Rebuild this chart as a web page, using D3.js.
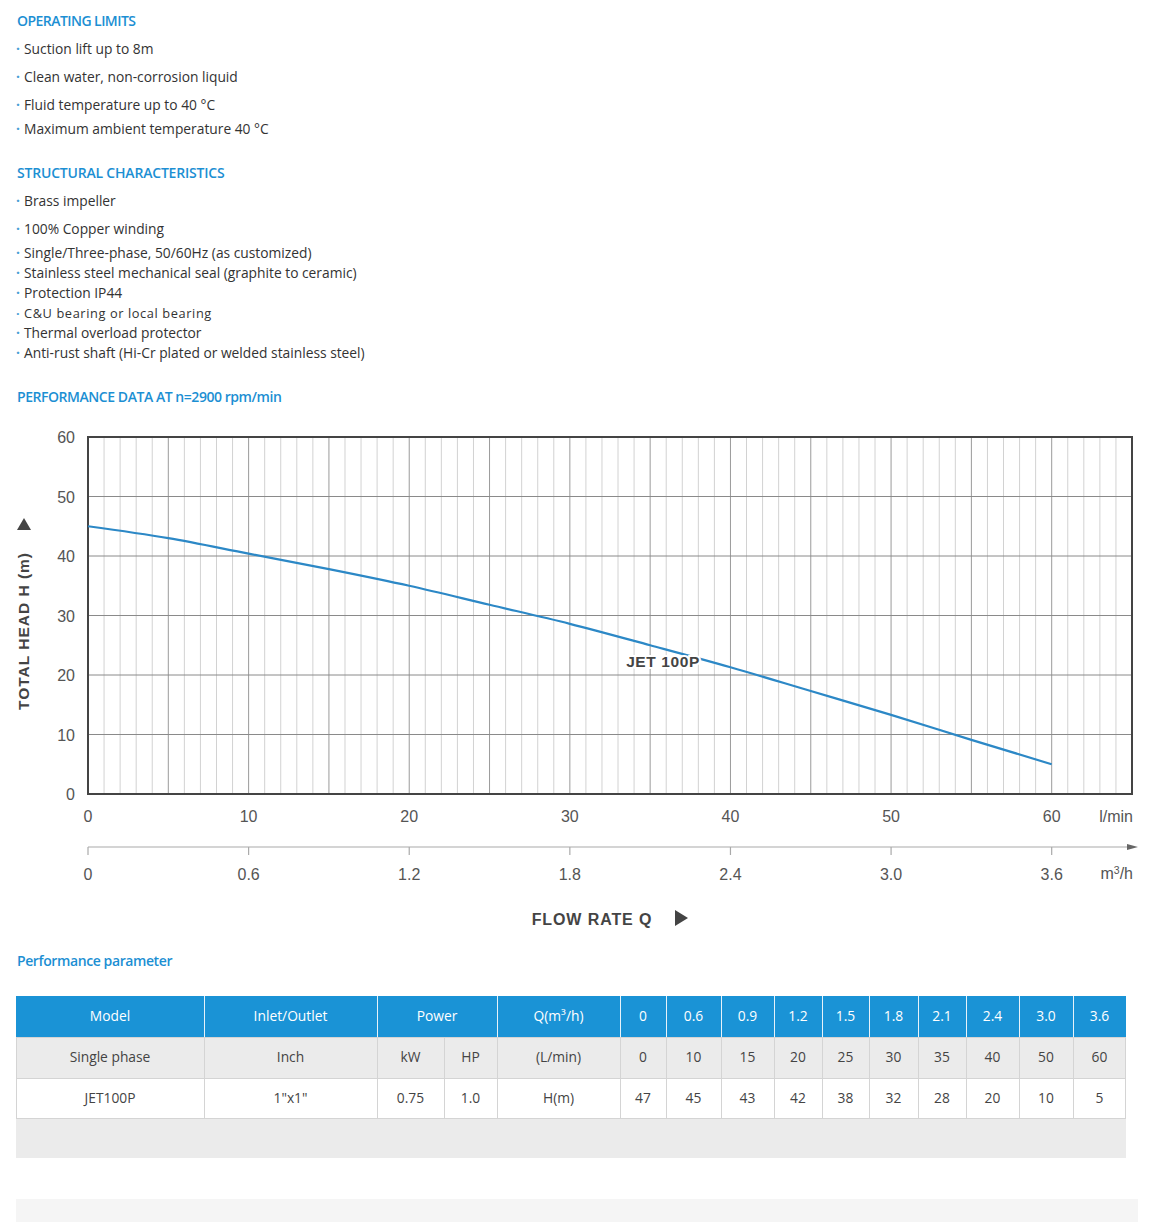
<!DOCTYPE html>
<html><head><meta charset="utf-8">
<script src="https://cdn.jsdelivr.net/npm/d3@7/dist/d3.min.js"></script>
<style>
body{margin:0;background:#fff;}
svg{display:block;}
</style></head>
<body>
<svg id="c" width="1161" height="1222"></svg>
<script>
// ---------- DATA ----------
const opLimits = ["Suction lift up to 8m","Clean water, non-corrosion liquid","Fluid temperature up to 40 °C","Maximum ambient temperature 40 °C"];
const structural = ["Brass impeller","100% Copper winding","Single/Three-phase, 50/60Hz (as customized)","Stainless steel mechanical seal (graphite to ceramic)","Protection IP44","C&U bearing or local bearing","Thermal overload protector","Anti-rust shaft (Hi-Cr plated or welded stainless steel)"];
const curveFlow = [0,5,10,15,20,25,30,35,40,45,50,55,60];          // l/min
const curveHead = [45,43,40.4,37.8,35,31.8,28.6,25,21.3,17.3,13.3,9.1,5]; // m
const xTicksLmin = [0,10,20,30,40,50,60];
const xTicksM3h = ["0","0.6","1.2","1.8","2.4","3.0","3.6"];
const yTicks = [0,10,20,30,40,50,60];
const qM3h = ["0","0.6","0.9","1.2","1.5","1.8","2.1","2.4","3.0","3.6"];
const qLmin = ["0","10","15","20","25","30","35","40","50","60"];
const headM = ["47","45","43","42","38","32","28","20","10","5"];

const svg = d3.select("#c");
const BLUE = "#1c8fd3";
const TXT = "Open Sans, sans-serif";

// ---------- TOP TEXT ----------
function heading(t,y,ls){
  svg.append("text").attr("x",17).attr("y",y).attr("font-family",TXT).attr("font-size",14)
    .attr("font-weight",600).attr("letter-spacing",ls).attr("fill",BLUE).text(t);
}
function bullets(list,ys,sizes,spacing){
  list.forEach((t,i)=>{
    const tx = svg.append("text").attr("x",16).attr("y",ys[i]).attr("font-family",TXT)
      .attr("font-size",sizes? sizes[i]:13.8).attr("fill","#333");
    tx.append("tspan").attr("fill","#4a9fd6").attr("font-weight",700).text("· ");
    tx.append("tspan").attr("x",24).attr("letter-spacing",spacing? spacing[i]:0).text(t);
  });
}
heading("OPERATING LIMITS",26,-0.55);
bullets(opLimits,[54,82,110,134]);
heading("STRUCTURAL CHARACTERISTICS",178,-0.2);
bullets(structural,[206,234,258,278,298,318,338,358],[13.8,13.8,13.8,13.8,13.8,12.8,13.8,13.8],[0,0,0,0,0,0.6,0,0]);
heading("PERFORMANCE DATA AT n=2900 rpm/min",402,-0.45);

// ---------- CHART ----------
const x = d3.scaleLinear().domain([0,65]).range([88,1132]);
const y = d3.scaleLinear().domain([0,60]).range([794,437]);
const g = svg.append("g");
const minor = d3.range(1,65).filter(v=>v%5!==0);
const major = d3.range(5,65,5);
g.selectAll(".mn").data(minor).join("line").attr("x1",d=>x(d)).attr("x2",d=>x(d))
  .attr("y1",y(60)).attr("y2",y(0)).attr("stroke","#d2d2d2").attr("stroke-width",1);
g.selectAll(".mj").data(major).join("line").attr("x1",d=>x(d)).attr("x2",d=>x(d))
  .attr("y1",y(60)).attr("y2",y(0)).attr("stroke","#9a9a9a").attr("stroke-width",1);
g.selectAll(".hz").data(yTicks.slice(1,-1)).join("line").attr("x1",x(0)).attr("x2",x(65))
  .attr("y1",d=>y(d)).attr("y2",d=>y(d)).attr("stroke","#8a8a8a").attr("stroke-width",1);
g.append("rect").attr("x",x(0)).attr("y",y(60)).attr("width",x(65)-x(0)).attr("height",y(0)-y(60))
  .attr("fill","none").attr("stroke","#444").attr("stroke-width",2);

// curve
const line = d3.line().x((d,i)=>x(curveFlow[i])).y(d=>y(d)).curve(d3.curveMonotoneX);
g.append("path").attr("d",line(curveHead)).attr("fill","none").attr("stroke","#2c88c6").attr("stroke-width",2.2);
g.append("text").attr("x",663).attr("y",667).attr("text-anchor","middle")
  .attr("font-family","Liberation Sans, Arial, sans-serif").attr("font-weight",700).attr("font-size",15.5)
  .attr("letter-spacing",0.6).attr("fill","#444").attr("stroke","#fff").attr("stroke-width",4)
  .attr("paint-order","stroke").text("JET 100P");

// Y axis labels
const AX = "Liberation Sans, Arial, sans-serif";
g.selectAll(".yl").data(yTicks).join("text").attr("x",75).attr("y",d=>y(d)+6)
  .attr("text-anchor","end").attr("font-family",AX).attr("font-size",16).attr("fill","#555").text(d=>d);
// X axis labels l/min
g.selectAll(".xl").data(xTicksLmin).join("text").attr("x",d=>x(d)).attr("y",822)
  .attr("text-anchor","middle").attr("font-family",AX).attr("font-size",16).attr("fill","#555").text(d=>d);
g.append("text").attr("x",1133).attr("y",822).attr("text-anchor","end").attr("font-family",AX)
  .attr("font-size",16).attr("fill","#555").text("l/min");
// second axis
g.append("line").attr("x1",x(0)).attr("x2",1130).attr("y1",847).attr("y2",847).attr("stroke","#aaa").attr("stroke-width",1.2);
g.append("path").attr("d","M1127,844 L1138,847 L1127,850 Z").attr("fill","#666");
g.selectAll(".t2").data(xTicksLmin).join("line").attr("x1",d=>x(d)).attr("x2",d=>x(d))
  .attr("y1",847).attr("y2",855).attr("stroke","#aaa").attr("stroke-width",1.2);
g.selectAll(".xl2").data(xTicksM3h).join("text").attr("x",(d,i)=>x(xTicksLmin[i])).attr("y",880)
  .attr("text-anchor","middle").attr("font-family",AX).attr("font-size",16).attr("fill","#555").text(d=>d);
const mt = g.append("text").attr("x",1133).attr("y",879).attr("text-anchor","end").attr("font-family",AX)
  .attr("font-size",16).attr("fill","#555");
mt.append("tspan").text("m");
mt.append("tspan").attr("font-size",10.5).attr("dy",-5).text("3");
mt.append("tspan").attr("dy",5).text("/h");
// axis titles
g.append("text").attr("x",592).attr("y",925).attr("text-anchor","middle").attr("font-family",AX)
  .attr("font-weight",700).attr("font-size",16).attr("letter-spacing",0.9).attr("fill","#444").text("FLOW RATE Q");
g.append("path").attr("d","M675,910 L688,918 L675,926 Z").attr("fill","#444");
g.append("text").attr("transform","translate(29,631) rotate(-90)").attr("text-anchor","middle")
  .attr("font-family",AX).attr("font-weight",700).attr("font-size",15.5).attr("letter-spacing",1.0)
  .attr("fill","#444").text("TOTAL HEAD H (m)");
g.append("path").attr("d","M17,530 L31,530 L24,518 Z").attr("fill","#444");

// ---------- TABLE ----------
svg.append("text").attr("x",17).attr("y",966).attr("font-family",TXT).attr("font-size",14)
  .attr("font-weight",600).attr("letter-spacing",-0.4).attr("fill",BLUE).text("Performance parameter");

const colX = [16,204,377,444,497,620,666,721,774,822,869,918,966,1019,1073,1126];
const rowY = [996,1037,1078,1118];
const t = svg.append("g").attr("font-family",TXT).attr("font-size",13.8);
// backgrounds
t.append("rect").attr("x",16).attr("y",rowY[0]).attr("width",1110).attr("height",41).attr("fill","#1a93d6");
t.append("rect").attr("x",16).attr("y",rowY[1]).attr("width",1110).attr("height",41).attr("fill","#ebebeb");
t.append("rect").attr("x",16).attr("y",rowY[2]).attr("width",1110).attr("height",40).attr("fill","#fff");
t.append("rect").attr("x",16).attr("y",rowY[3]).attr("width",1110).attr("height",40).attr("fill","#ebebeb");
svg.append("rect").attr("x",16).attr("y",1199).attr("width",1122).attr("height",23).attr("fill","#f5f5f5");

const header = [["Model",0,1],["Inlet/Outlet",1,2],["Power",2,4],["Q(m³/h)",4,5]].concat(qM3h.map((v,i)=>[v,5+i,6+i]));
const row2 = [["Single phase",0,1],["Inch",1,2],["kW",2,3],["HP",3,4],["(L/min)",4,5]].concat(qLmin.map((v,i)=>[v,5+i,6+i]));
const row3 = [["JET100P",0,1],["1\"x1\"",1,2],["0.75",2,3],["1.0",3,4],["H(m)",4,5]].concat(headM.map((v,i)=>[v,5+i,6+i]));
// vertical separators
function vlines(cells,r,color){
  t.selectAll(null).data(cells.slice(1)).join("line").attr("x1",d=>colX[d[1]]+0.5).attr("x2",d=>colX[d[1]]+0.5)
    .attr("y1",rowY[r]).attr("y2",rowY[r]+41).attr("stroke",color).attr("stroke-width",1);
}
vlines(header,0,"#e6f2fa");
vlines(row2,1,"#d4d4d4");
vlines(row3,2,"#d4d4d4");
[rowY[1],rowY[2],rowY[3]].forEach(yy=>t.append("line").attr("x1",16).attr("x2",1126).attr("y1",yy+0.5).attr("y2",yy+0.5).attr("stroke","#d4d4d4"));
t.append("line").attr("x1",16.5).attr("x2",16.5).attr("y1",rowY[1]).attr("y2",rowY[3]).attr("stroke","#d4d4d4");
t.append("line").attr("x1",1125.5).attr("x2",1125.5).attr("y1",rowY[1]).attr("y2",rowY[3]).attr("stroke","#d4d4d4");
function cells(data,r,color){
  t.selectAll(null).data(data).join("text").attr("x",d=>(colX[d[1]]+colX[d[2]])/2).attr("y",rowY[r]+25)
    .attr("text-anchor","middle").attr("fill",color).text(d=>d[0]);
}
cells(header,0,"#fff");
cells(row2,1,"#444");
cells(row3,2,"#444");
</script>
</body></html>
